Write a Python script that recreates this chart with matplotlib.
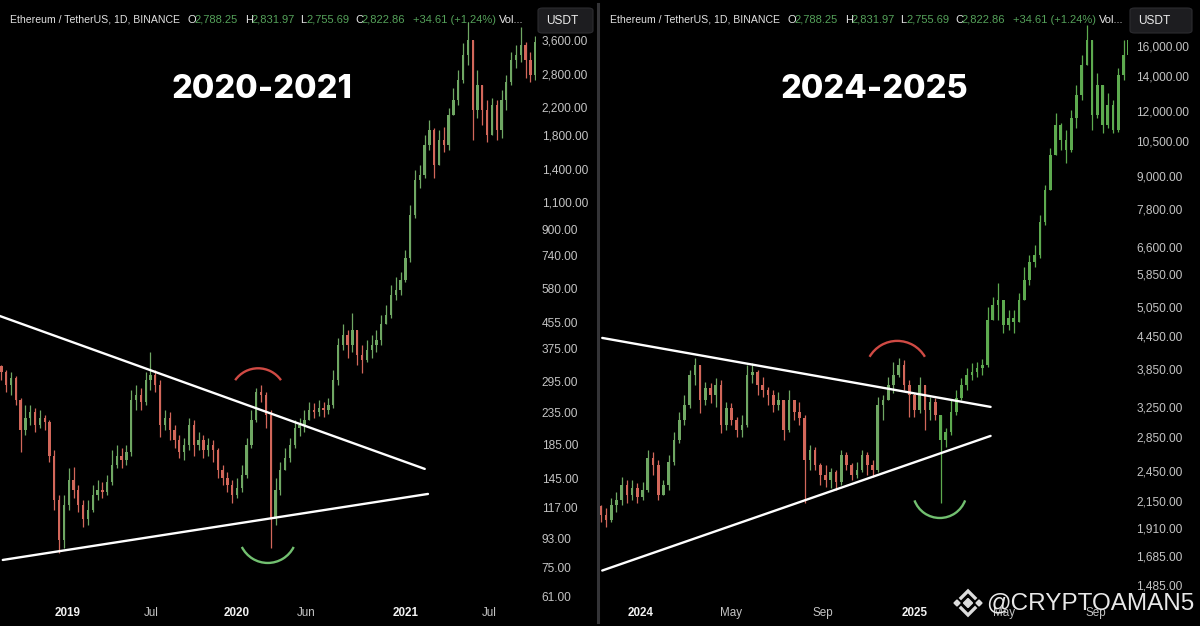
import numpy as np
import pandas as pd
import matplotlib
matplotlib.use("Agg")
import matplotlib.pyplot as plt
import matplotlib.dates as mdates
from matplotlib.patches import Arc, Polygon, FancyBboxPatch
from matplotlib.lines import Line2D
from matplotlib.ticker import NullLocator

W, H = 1200, 626

# ---- 2020-2021 panel: ETH/USDT, ~10 day candles ----
left_start = "2018-08-10"
left_open0 = 330.0
left_close = [
    316, 286, 302, 257, 206, 225, 236, 214, 225, 219,
    171, 123, 92, 119, 143, 133, 119, 107, 115, 128,
    133, 131, 141, 160, 171, 165, 176, 257, 266, 253,
    297, 309, 286, 214, 225, 206, 192, 176, 185, 214,
    185, 192, 178, 185, 178, 154, 145, 138, 128, 135,
    148, 185, 222, 272, 266, 230, 107, 133, 154, 168,
    185, 209, 214, 222, 239, 236, 242, 239, 248, 297,
    385, 414, 385, 429, 358, 345, 371, 385, 399, 449,
    479, 555, 576, 620, 728, 998, 1290, 1338, 1668, 1861,
    1440, 1729, 1668, 2078, 2318, 2685, 3230, 3600, 2155, 2590,
    2155, 1795, 2235, 1861, 2318, 2645, 3109, 3230, 3470, 3109,
    2785, 3550]
left_high = [
    332, 320, 316, 306, 261, 248, 248, 242, 239, 230,
    222, 178, 128, 128, 156, 157, 138, 123, 123, 138,
    143, 141, 148, 178, 185, 181, 185, 276, 286, 280,
    316, 366, 320, 297, 239, 236, 214, 199, 195, 225,
    222, 203, 199, 195, 192, 181, 160, 151, 143, 145,
    160, 195, 239, 280, 286, 272, 239, 145, 163, 181,
    195, 222, 225, 239, 253, 251, 257, 253, 261, 320,
    405, 449, 429, 486, 429, 385, 399, 414, 429, 479,
    516, 598, 634, 657, 772, 1074, 1388, 1440, 1795, 2002,
    1890, 1861, 1903, 2185, 2530, 2889, 3520, 4108, 3600, 2889,
    2495, 2318, 2350, 2318, 2495, 2785, 3295, 3470, 3960, 3550,
    3295, 3700]
left_low = [
    297, 272, 266, 248, 175, 199, 214, 203, 209, 206,
    163, 115, 83.5, 86.5, 115, 125, 113, 101, 103, 113,
    123, 125, 128, 138, 156, 156, 160, 171, 239, 239,
    248, 276, 272, 196, 206, 192, 181, 168, 165, 178,
    171, 178, 168, 171, 163, 145, 138, 131, 121, 125,
    131, 145, 181, 219, 253, 209, 87, 103, 128, 154,
    163, 181, 198, 203, 222, 225, 229, 227, 232, 242,
    286, 371, 350, 366, 332, 313, 340, 350, 366, 385,
    449, 470, 535, 555, 611, 706, 977, 1216, 1308, 1607,
    1308, 1493, 1582, 1607, 2078, 2235, 2630, 3000, 1729, 2032,
    1930, 1705, 2032, 1729, 1755, 2155, 2590, 2930, 3065, 2725,
    2645, 2685]

left_yticks = [3600, 2800, 2200, 1800, 1400, 1100, 900, 740, 580, 455,
               375, 295, 235, 185, 145, 117, 93, 75, 61]
left_xticks = ["2019-01-01", "2019-07-01", "2020-01-01", "2020-06-01", "2021-01-01", "2021-07-01"]
left_xlabels = ["2019", "Jul", "2020", "Jun", "2021", "Jul"]
# trendlines (date, price)
left_upper_line = [("2018-08-06", 476), ("2021-02-12", 155)]
left_lower_line = [("2018-08-13", 79.5), ("2021-02-19", 129)]

# ---- 2024-2025 panel: weekly candles, green projection after Feb 2025 ----
right_start = "2023-11-08"
right_open0 = 2100.0
right_close = [
    2022, 1978, 2113, 2160, 2308, 2209, 2278, 2189, 2257, 2601,
    2522, 2209, 2308, 2555, 2814, 3074, 3285, 3750, 3920, 3358,
    3540, 3434, 3588, 3008, 3242, 3074, 2941, 3008, 3750, 3800,
    3588, 3509, 3434, 3285, 3358, 2941, 3358, 3185, 3102, 2577,
    2693, 2522, 2413, 2359, 2445, 2339, 2636, 2522, 2413, 2466,
    2636, 2522, 2466, 3285, 3358, 3588, 3750, 3920, 3588, 3434,
    3213, 3588, 3213, 3329, 3143, 2814, 2916, 3185, 3388, 3588,
    3750, 3800, 3868, 3920, 4778, 5106, 5219, 4675, 4821, 4737,
    5219, 5700, 6172, 6366, 7363, 8477, 9894, 11295, 10568, 10112,
    11648, 12893, 14717, 16430, 11804, 13474, 11295, 12336, 11045, 14082,
    15380, 16430]
right_high = [
    2113, 2086, 2179, 2238, 2391, 2359, 2359, 2328, 2339, 2693,
    2670, 2577, 2359, 2636, 2916, 3185, 3434, 3833, 4042, 3833,
    3635, 3619, 3700, 3667, 3329, 3314, 3116, 3143, 3920, 3954,
    3833, 3717, 3556, 3509, 3479, 3213, 3509, 3358, 3329, 3143,
    2753, 2729, 2544, 2522, 2488, 2466, 2693, 2670, 2544, 2555,
    2693, 2670, 2577, 3403, 3434, 3717, 3971, 4042, 4006, 3667,
    3464, 3717, 3588, 3403, 3388, 3102, 2968, 3358, 3509, 3700,
    3868, 3954, 3971, 4024, 5062, 5290, 5626, 5219, 4994, 4994,
    5384, 6038, 6366, 6653, 7594, 8668, 10203, 11908, 11394, 11045,
    12064, 13474, 15380, 17553, 15042, 14206, 13177, 13006, 12608, 14522,
    16430, 17020]
right_low = [
    1961, 1918, 1961, 2049, 2113, 2132, 2160, 2132, 2160, 2238,
    2413, 2160, 2238, 2257, 2522, 2778, 3008, 3242, 3588, 3171,
    3285, 3314, 3256, 2903, 2941, 3008, 2852, 2852, 2981, 3619,
    3434, 3403, 3285, 3185, 3213, 2814, 2916, 3074, 3008, 2132,
    2466, 2466, 2308, 2288, 2278, 2257, 2308, 2466, 2359, 2380,
    2445, 2413, 2391, 2445, 3074, 3358, 3464, 3717, 3509, 3116,
    3116, 3171, 2941, 3074, 3074, 2132, 2729, 2877, 3143, 3358,
    3509, 3667, 3717, 3750, 3885, 4886, 4778, 4513, 4572, 4513,
    4778, 5219, 5577, 6038, 6282, 7266, 8477, 9894, 10112, 9550,
    10025, 11145, 12608, 14717, 11045, 11648, 10902, 11145, 10902, 10950,
    13771, 15042]
right_projection_from = "2025-01-30"

right_yticks = [16000, 14000, 12000, 10500, 9000, 7800, 6600, 5850, 5050, 4450,
                3850, 3250, 2850, 2450, 2150, 1910, 1685, 1485]
right_xticks = ["2024-01-01", "2024-05-01", "2024-09-01", "2025-01-01", "2025-05-01", "2025-09-01"]
right_xlabels = ["2024", "May", "Sep", "2025", "May", "Sep"]
right_upper_line = [("2023-11-10", 4414), ("2025-04-13", 3256)]
right_lower_line = [("2023-11-10", 1582), ("2025-04-13", 2865)]

header_name = "Ethereum / TetherUS, 1D, BINANCE"
header_ohlc = [("O", "2,788.25"), ("H", "2,831.97"), ("L", "2,755.69"), ("C", "2,822.86")]
header_change = "+34.61 (+1.24%)"

BG = "#000000"
UP = "#6fa763"
DOWN = "#d2675a"
PROJ = "#5daa4f"
TICK = "#c4c4c4"
HDR_GREEN = "#55a25a"


def px(x, y):
    return x / W, 1 - y / H


def draw_candles(ax, start, freq, open0, close, high, low, width, proj_from=None):
    dates = pd.date_range(start, periods=len(close), freq=freq)
    x = mdates.date2num(dates.to_pydatetime())
    c = np.array(close, float)
    o = np.concatenate([[open0], c[:-1]])
    hi = np.maximum(np.array(high, float), np.maximum(o, c))
    lo = np.minimum(np.array(low, float), np.minimum(o, c))
    cols = np.where(c >= o, UP, DOWN).astype(object)
    if proj_from is not None:
        cols[dates >= pd.Timestamp(proj_from)] = PROJ
    ax.vlines(x, lo, hi, colors=list(cols), lw=0.9, zorder=2)
    bottom = np.minimum(o, c)
    height = np.maximum(np.abs(c - o), bottom * 0.006)
    ax.bar(x, height, width, bottom=bottom, color=list(cols), zorder=3, linewidth=0)


def style_axis(ax, yticks, xticks, xlabels, ylim, xlim, ypad):
    ax.set_facecolor(BG)
    for s in ax.spines.values():
        s.set_visible(False)
    ax.set_yscale("log")
    ax.set_ylim(*ylim)
    ax.set_xlim(mdates.date2num(pd.Timestamp(xlim[0])), mdates.date2num(pd.Timestamp(xlim[1])))
    ax.yaxis.tick_right()
    ax.set_yticks(yticks)
    ax.set_yticklabels([f"{v:,.2f}" for v in yticks])
    ax.yaxis.set_minor_locator(NullLocator())
    ax.tick_params(axis="y", length=0, pad=ypad, labelsize=8.6, labelcolor=TICK)
    ax.set_xticks(mdates.date2num(pd.to_datetime(xticks).to_pydatetime()))
    ax.set_xticklabels(xlabels)
    ax.tick_params(axis="x", length=0, pad=3, labelsize=8.4, labelcolor=TICK)
    for lab in ax.get_xticklabels():
        if lab.get_text().isdigit():
            lab.set_fontweight("bold")
            lab.set_color("#f2f2f2")
    for lab in ax.get_xticklabels() + ax.get_yticklabels():
        lab.set_family("Liberation Sans")


def draw_line(ax, pts):
    xs = [mdates.date2num(pd.Timestamp(d)) for d, _ in pts]
    ys = [p for _, p in pts]
    ax.plot(xs, ys, color="white", lw=1.7, zorder=4, solid_capstyle="round")


def draw_arc(ax, ax_w, ax_h, date, price, r, t1, t2, color):
    cx, cy = ax.transAxes.inverted().transform(
        ax.transData.transform((mdates.date2num(pd.Timestamp(date)), price)))
    ax.add_patch(Arc((cx, cy), 2 * r / ax_w, 2 * r / ax_h, theta1=t1, theta2=t2,
                     transform=ax.transAxes, color=color, lw=1.7, zorder=5))


fig = plt.figure(figsize=(W / 100, H / 100), dpi=100, facecolor=BG)

# left panel
axL = fig.add_axes([0, 23 / H, 536 / W, 603 / H])
draw_candles(axL, left_start, "250h", left_open0, left_close, left_high, left_low, 5.0)
style_axis(axL, left_yticks, left_xticks, left_xlabels, (57.98, 4827),
           ("2018-08-07", "2021-10-11"), 4)
draw_line(axL, left_upper_line)
draw_line(axL, left_lower_line)
draw_arc(axL, 536, 603, "2020-02-17", 264, 28, 32, 148, "#d04a44")
draw_arc(axL, 536, 603, "2020-03-09", 96.2, 29, 204, 336, "#72c070")

# right panel
axR = fig.add_axes([600 / W, 23 / H, 528 / W, 603 / H])
draw_candles(axR, right_start, "7D", right_open0, right_close, right_high, right_low, 3.6,
             proj_from=right_projection_from)
style_axis(axR, right_yticks, right_xticks, right_xlabels, (1370.9, 19598),
           ("2023-11-07", "2025-10-14"), 6)
draw_line(axR, right_upper_line)
draw_line(axR, right_lower_line)
draw_arc(axR, 528, 603, "2024-12-09", 3783, 32, 27, 153, "#d04a44")
draw_arc(axR, 528, 603, "2025-02-04", 2247, 27, 198, 342, "#72c070")

# panel separator
fig.add_artist(Line2D([598 / W, 598 / W], [1 - 4 / H, 1 - 622 / H], color="#343437", lw=2.2))

# big titles
for cx, t in [(262, "2020-2021"), (874, "2024-2025")]:
    fig.text(*px(cx, 90), t, color="white", fontsize=23.5, fontweight="heavy",
             family="Inter", ha="center", va="center")

# header lines
hdr = dict(fontsize=8, family="Liberation Sans", va="center")
for off in (0, 600):
    fig.text(*px(off + 9.6, 20), header_name, color="#e0e0e0",
             fontsize=7.6, family="Liberation Sans", va="center")
    xs = [187.5, 245, 300, 355]
    for x0, (k, v) in zip(xs, header_ohlc):
        fig.text(*px(off + x0, 20), k, color="#e8e8e8", **hdr)
        fig.text(*px(off + x0 + 6.5, 20), v, color=HDR_GREEN, **hdr)
    fig.text(*px(off + 413, 20), header_change, color=HDR_GREEN, **hdr)
    fig.text(*px(off + 499, 20), "Vol...", color="#e8e8e8", **hdr)

# USDT boxes
for x0, w in [(538, 55), (1130, 62)]:
    bx, by = px(x0, 33)
    fig.add_artist(FancyBboxPatch((bx, by), w / W, 25 / H, boxstyle="round,pad=0,rounding_size=0.004",
                                  transform=fig.transFigure, facecolor="#1d1d20", edgecolor="#2c2c30", lw=0.8))
    fig.text(*px(x0 + 8, 21), "USDT", color="#ececec", fontsize=8.6, family="Liberation Sans", va="center")

# watermark: binance-like mark + handle
lc = "#dcdcdc"
cx, cy = 968, 603
for dx, s in [(0, 4.5), (-11, 3), (11, 3)]:
    pts = [px(cx + dx - s, cy), px(cx + dx, cy - s), px(cx + dx + s, cy), px(cx + dx, cy + s)]
    fig.add_artist(Polygon(pts, closed=True, transform=fig.transFigure, color=lc))
for sgn in (-1, 1):
    xs_, ys_ = zip(px(cx - 7, cy + sgn * 5), px(cx, cy + sgn * 12), px(cx + 7, cy + sgn * 5))
    fig.add_artist(Line2D(xs_, ys_, color=lc, lw=2.4, solid_joinstyle="miter"))
fig.text(*px(986, 603), "@CRYPTOAMAN5", color="#e8e8e8", fontsize=17.5,
         family="Liberation Sans", ha="left", va="center")

fig.savefig("out.png", dpi=100, facecolor=BG)
